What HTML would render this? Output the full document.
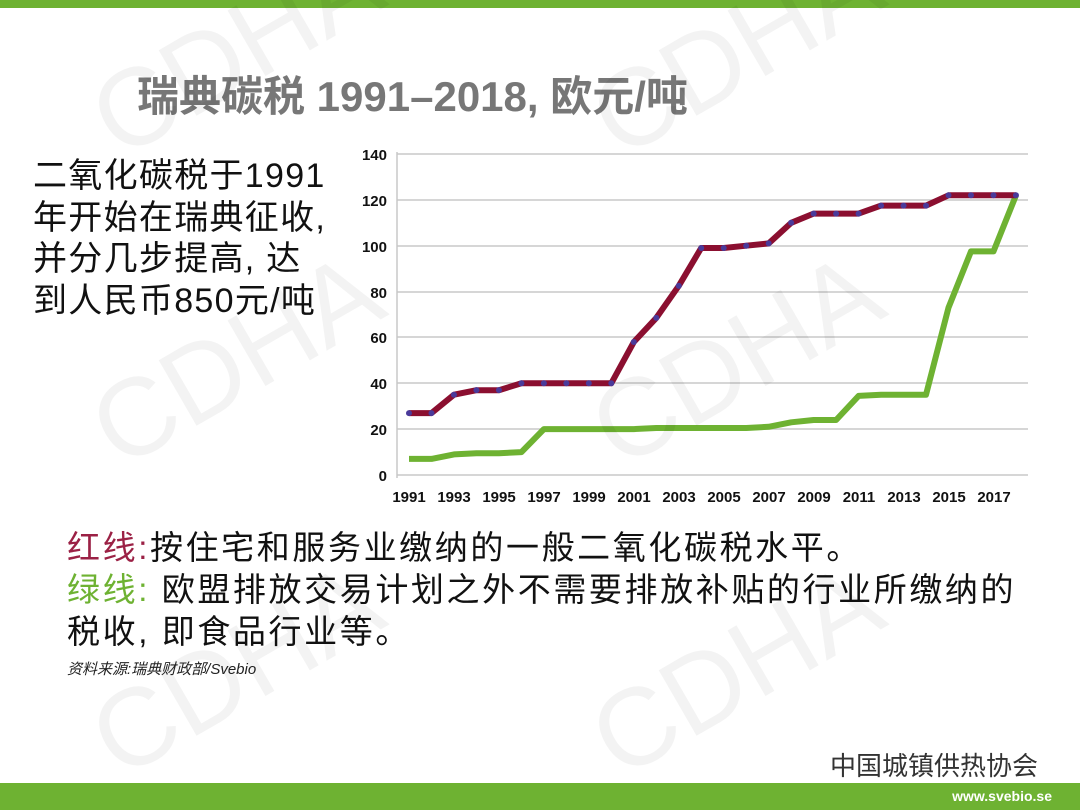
<!DOCTYPE html>
<html><head><meta charset="utf-8">
<style>
body{margin:0;width:1080px;height:810px;overflow:hidden;background:#fff;position:relative;font-family:"Liberation Sans","Noto Sans CJK SC",sans-serif}
.t{position:absolute;white-space:nowrap}
</style></head><body>
<div style="position:absolute;left:0;top:0;width:1080px;height:8px;background:#6eb232"></div>
<div style="position:absolute;left:0;top:783px;width:1080px;height:27px;background:#6eb232"></div>
<div class="t" style="right:28px;top:788px;color:#fff;font-weight:bold;font-size:14px">www.svebio.se</div>
<div class="t" style="left:137px;top:63px;font-size:42px;font-weight:bold;color:#777">瑞典碳税 1991–2018, 欧元/吨</div>
<div class="t" style="left:33px;top:156px;font-size:34px;letter-spacing:1.3px;line-height:41.5px;color:#111">二氧化碳税于1991<br>年开始在瑞典征收,<br>并分几步提高, 达<br>到人民币850元/吨</div>
<div class="t" style="left:67px;top:527px;font-size:33px;letter-spacing:2.6px;line-height:42px;color:#111"><span style="color:#9b2145">红线:</span>按住宅和服务业缴纳的一般二氧化碳税水平。<br><span style="color:#6eb232">绿线:</span> 欧盟排放交易计划之外不需要排放补贴的行业所缴纳的<br>税收, 即食品行业等。</div>
<div class="t" style="left:67px;top:658px;font-size:15px;font-style:italic;color:#222">资料来源:瑞典财政部/Svebio</div>
<div class="t" style="left:830px;top:746px;font-size:26px;color:#333">中国城镇供热协会</div>
<svg style="position:absolute;left:0;top:0" width="1080" height="810" id="s">
<g stroke="#c8c8c8" stroke-width="1.5">
<line x1="397" x2="1028" y1="154" y2="154"/><line x1="397" x2="1028" y1="200" y2="200"/><line x1="397" x2="1028" y1="246" y2="246"/><line x1="397" x2="1028" y1="292" y2="292"/><line x1="397" x2="1028" y1="337" y2="337"/><line x1="397" x2="1028" y1="383" y2="383"/><line x1="397" x2="1028" y1="429" y2="429"/><line x1="397" x2="1028" y1="475" y2="475"/>
<line x1="397" x2="397" y1="152" y2="478"/>
</g>
<g font-size="15" font-weight="bold" fill="#111" text-anchor="end" font-family="Liberation Sans">
<text x="387" y="160">140</text><text x="387" y="206">120</text><text x="387" y="252">100</text><text x="387" y="298">80</text><text x="387" y="343">60</text><text x="387" y="389">40</text><text x="387" y="435">20</text><text x="387" y="481">0</text>
</g>
<g font-size="15" font-weight="bold" fill="#111" text-anchor="middle" font-family="Liberation Sans">
<text x="409" y="502">1991</text><text x="454" y="502">1993</text><text x="499" y="502">1995</text><text x="544" y="502">1997</text><text x="589" y="502">1999</text><text x="634" y="502">2001</text><text x="679" y="502">2003</text><text x="724" y="502">2005</text><text x="769" y="502">2007</text><text x="814" y="502">2009</text><text x="859" y="502">2011</text><text x="904" y="502">2013</text><text x="949" y="502">2015</text><text x="994" y="502">2017</text>
</g>
<polyline id="g" fill="none" stroke="#6eb232" stroke-width="6" stroke-linejoin="round"/>
<polyline id="r" fill="none" stroke="#8b0f30" stroke-width="6" stroke-linejoin="round"/>
<g id="d" fill="#4a3a9a"></g>
<g font-size="110" fill="#000" opacity="0.05" font-family="Liberation Sans">
<text transform="translate(120,470) rotate(-30)">CDHA</text>
<text transform="translate(620,470) rotate(-30)">CDHA</text>
<text transform="translate(120,160) rotate(-30)">CDHA</text>
<text transform="translate(620,160) rotate(-30)">CDHA</text>
<text transform="translate(120,780) rotate(-30)">CDHA</text>
<text transform="translate(620,780) rotate(-30)">CDHA</text>
</g>
</svg>
<script>
var R=[27,27,35,37,37,40,40,40,40,40,58,68.5,82.5,99,99,100,101,110,114,114,114,117.5,117.5,117.5,122,122,122,122];
var G=[7,7,9,9.5,9.5,10,20,20,20,20,20,20.5,20.5,20.5,20.5,20.5,21,23,24,24,34.5,35,35,35,73,97.5,97.5,122];
function X(i){return 409+22.48*i}function Y(v){return 475-2.293*v}
function p(a){return a.map(function(v,i){return X(i).toFixed(1)+","+Y(v).toFixed(1)}).join(" ")}
document.getElementById("r").setAttribute("points",p(R));
document.getElementById("g").setAttribute("points",p(G));
var d=document.getElementById("d"),h="";
R.forEach(function(v,i){h+='<circle cx="'+X(i)+'" cy="'+Y(v)+'" r="3"/>'});
d.innerHTML=h;
</script>
</body></html>
